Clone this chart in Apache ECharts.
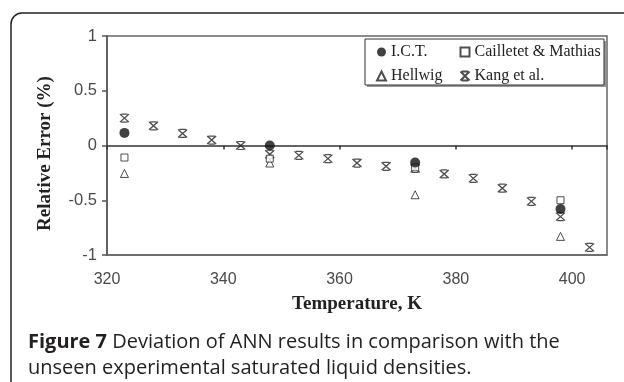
<!DOCTYPE html>
<html>
<head>
<meta charset="utf-8">
<script src="https://cdn.jsdelivr.net/npm/echarts@6/dist/echarts.min.js"></script>
<style>
  html, body { margin: 0; padding: 0; background: #fff; }
  #chart { width: 624px; height: 382px; }
</style>
</head>
<body>
<div id="chart"></div>
<script>
// temperatures, K
const kangTemps = [323, 328, 333, 338, 343, 348, 353, 358, 363, 368, 373, 378, 383, 388, 393, 398, 403]
const kangErr = [0.25, 0.18, 0.11, 0.05, 0, -0.08, -0.09, -0.12, -0.16, -0.19, -0.21, -0.26, -0.3, -0.39, -0.51, -0.65, -0.93]

const sparseTemps = [323, 348, 373, 398]
const ictErr = [0.115, 0, -0.155, -0.58]
const cailletetErr = [-0.11, -0.12, -0.2, -0.5]
const hellwigErr = [-0.255, -0.16, -0.45, -0.83]

const yTicks = [-1, -0.5, 0, 0.5, 1]
const xTicks = [320, 340, 360, 380, 400]

const pair = (xs, ys) => xs.map((x, i) => [x, ys[i]])

const starPath = 'path://M0,0 L10,10 M10,0 L0,10 M1.5,0 L8.5,0 M1.5,10 L8.5,10'
const serif = '"Liberation Serif", "DejaVu Serif", serif'
const sans = '"Liberation Sans", Arial, sans-serif'

const chart = echarts.init(document.getElementById('chart'))

const hollow = {
  color: '#fff',
  borderColor: '#222',
  borderWidth: 1,
}

const legendText = { fontFamily: serif, fontSize: 16, color: '#222' }

chart.setOption({
  animation: false,
  title: {
    left: 28,
    top: 329,
    padding: 0,
    text: '{b|Figure 7} Deviation of ANN results in comparison with the\nunseen experimental saturated liquid densities.',
    textStyle: {
      fontFamily: '"Open Sans", sans-serif',
      fontSize: 20,
      fontWeight: 'normal',
      color: '#231f20',
      lineHeight: 26,
      rich: {
        b: {
          fontFamily: '"Open Sans", sans-serif',
          fontSize: 20,
          fontWeight: 'bold',
          color: '#231f20',
          lineHeight: 26,
        },
      },
    },
  },
  graphic: [
    {
      type: 'rect',
      z: -1,
      shape: { x: 11, y: 13, width: 720, height: 420, r: 11 },
      style: { fill: 'none', stroke: '#222', lineWidth: 1.5 },
    },
    {
      type: 'rect',
      shape: { x: 367, y: 41, width: 239, height: 46 },
      style: { fill: '#999', stroke: 'none' },
    },
    {
      type: 'rect',
      shape: { x: 365, y: 39, width: 239, height: 46 },
      style: { fill: '#fff', stroke: '#333', lineWidth: 1 },
    },
  ],
  grid: {
    left: 107,
    right: 17,
    top: 36,
    bottom: 127,
    show: true,
    borderColor: '#666',
    borderWidth: 1.5,
    backgroundColor: 'transparent',
  },
  legend: [
    {
      data: ['I.C.T.', 'Hellwig'],
      orient: 'vertical',
      left: 376,
      top: 44,
      padding: 0,
      itemWidth: 9,
      itemHeight: 9,
      itemGap: 8,
      textStyle: legendText,
    },
    {
      data: ['Cailletet & Mathias', 'Kang et al.'],
      orient: 'vertical',
      left: 458,
      top: 44,
      padding: 0,
      itemWidth: 9,
      itemHeight: 9,
      itemGap: 8,
      textStyle: legendText,
    },
  ],
  xAxis: [
    {
      type: 'value',
      min: xTicks[0],
      max: 406,
      interval: 20,
      position: 'bottom',
      name: 'Temperature, K',
      nameLocation: 'middle',
      nameGap: 40,
      nameTextStyle: { fontFamily: serif, fontSize: 19, fontWeight: 'bold', color: '#222' },
      axisLine: { onZero: false, lineStyle: { color: '#666', width: 1.5 } },
      axisTick: { show: false },
      axisLabel: {
        showMaxLabel: false,
        margin: 17,
        fontFamily: sans,
        fontSize: 16,
        color: '#4a4a4a',
      },
      splitLine: { show: false },
    },
    {
      type: 'value',
      min: xTicks[0],
      max: 406,
      interval: 20,
      position: 'bottom',
      axisLine: { onZero: true, lineStyle: { color: '#333', width: 1.5 } },
      axisTick: { show: true, length: 4, lineStyle: { color: '#333', width: 1.5 } },
      axisLabel: { show: false },
      splitLine: { show: false },
    },
  ],
  yAxis: {
    type: 'value',
    min: yTicks[0],
    max: yTicks[yTicks.length - 1],
    interval: 0.5,
    name: 'Relative Error (%)',
    nameLocation: 'middle',
    nameGap: 52,
    nameTextStyle: {
      fontFamily: serif,
      fontSize: 19,
      fontWeight: 'bold',
      color: '#222',
      padding: [0, 16, 0, 0],
    },
    axisLine: { show: true, lineStyle: { color: '#555', width: 1.5 } },
    axisTick: { show: true, length: 5, lineStyle: { color: '#555', width: 1.5 } },
    axisLabel: {
      margin: 10,
      fontFamily: sans,
      fontSize: 16.5,
      color: '#4a4a4a',
    },
    splitLine: { show: false },
  },
  series: [
    {
      name: 'Kang et al.',
      type: 'scatter',
      data: pair(kangTemps, kangErr),
      symbol: starPath,
      symbolSize: [9, 8],
      itemStyle: { color: 'none', borderColor: '#222', borderWidth: 1.3 },
      z: 2,
    },
    {
      name: 'Hellwig',
      type: 'scatter',
      data: pair(sparseTemps, hellwigErr),
      symbol: 'triangle',
      symbolSize: 8,
      itemStyle: hollow,
      z: 3,
    },
    {
      name: 'Cailletet & Mathias',
      type: 'scatter',
      data: pair(sparseTemps, cailletetErr),
      symbol: 'rect',
      symbolSize: 7,
      itemStyle: hollow,
      z: 4,
    },
    {
      name: 'I.C.T.',
      type: 'scatter',
      data: pair(sparseTemps, ictErr),
      symbol: 'circle',
      symbolSize: 10,
      itemStyle: { color: '#111' },
      z: 5,
    },
  ],
})
</script>
</body>
</html>
